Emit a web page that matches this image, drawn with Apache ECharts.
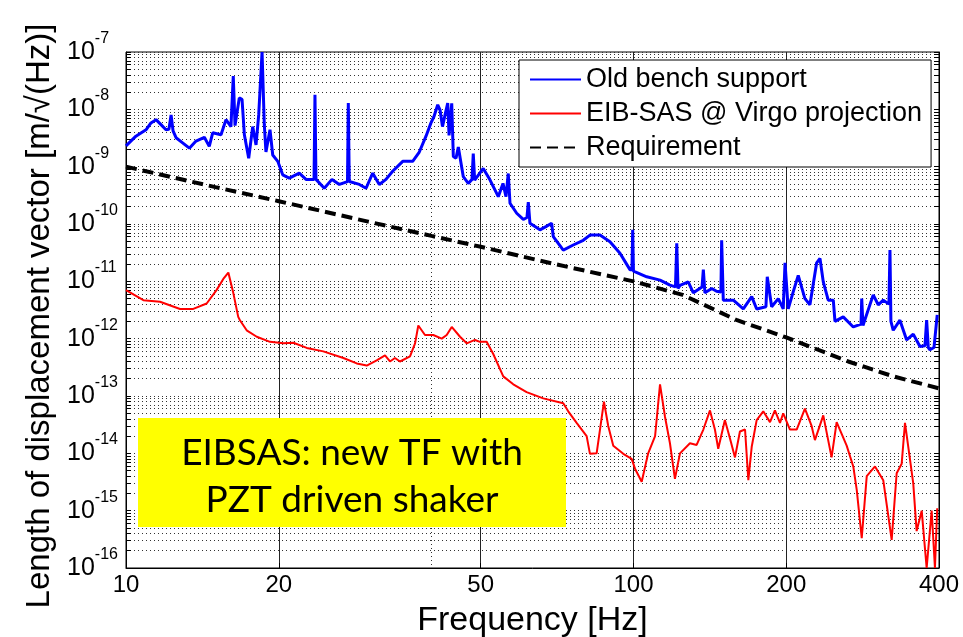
<!doctype html>
<html lang="en">
  <head>
    <meta charset="utf-8">
    <title>EIB-SAS displacement</title>
    <script src="https://cdn.jsdelivr.net/npm/echarts@6/dist/echarts.min.js"></script>
    <style>
      html, body {
        width: 100%;
        height: 100%;
        margin: 0;
        background: #fff;
      }

      #chart {
        width: 963px;
        height: 637px;
      }
    </style>
  </head>
  <body>
    <div id="chart"></div>
    <script>
      // tick positions
      const xTicks = [10, 20, 50, 100, 200, 400];
      const xMinorGrid = [40];
      const yDecades = [1e-16, 1e-15, 1e-14, 1e-13, 1e-12, 1e-11, 1e-10, 1e-9, 1e-8, 1e-7];
      const mantissas = [1, 2, 3, 4, 5, 6, 7, 8, 9];

      // Old bench support (blue)
      const blueFreq = [10.0, 10.46, 10.95, 11.2, 11.46, 11.72, 11.99, 12.15, 12.27, 12.38, 12.55, 12.93, 13.33, 13.74,
        14.27, 14.59, 14.82, 15.39, 15.74, 16.10, 16.27, 16.40, 16.72, 16.93, 17.11, 17.45, 17.77, 18.04, 18.26, 18.54,
        18.73, 18.87, 19.22, 19.46, 19.91, 20.36, 20.98, 21.95, 22.63, 23.47, 23.57, 23.68, 24.59, 25.46, 26.33, 27.32,
        27.42, 27.54, 28.83, 29.72, 30.63, 31.56, 32.53, 33.53, 35.10, 36.72, 37.84, 39.01, 39.90, 40.45, 41.14, 41.57,
        42.04, 42.53, 43.05, 43.31, 43.84, 44.16, 44.70, 45.17, 46.20, 47.26, 48.06, 48.34, 48.65, 50.58, 52.14, 54.15,
        55.32, 56.08, 56.66, 57.11, 58.87, 60.66, 61.68, 62.05, 62.52, 65.42, 67.22, 68.98, 69.50, 72.72, 76.09, 79.62,
        82.08, 85.90, 89.88, 94.06, 98.42, 99.32, 99.64, 100.0, 106.2, 112.8, 118.0, 121.0, 121.7, 122.4, 123.5, 128.2,
        131.2, 136.5, 137.3, 138.3, 142.6, 145.8, 148.7, 149.2, 150.3, 157.3, 164.6, 171.0, 174.9, 182.4, 183.5, 187.2,
        192.9, 197.3, 198.9, 201.8, 206.5, 211.2, 217.7, 222.7, 229.6, 233.1, 236.6, 242.0, 247.6, 249.5, 259.0, 271.1,
        280.8, 281.7, 283.3, 296.8, 303.6, 310.6, 318.7, 320.2, 321.6, 325.0, 335.0, 345.4, 355.9, 366.9, 375.3, 378.2,
        381.0, 383.9, 391.0, 396.8];
      const blueAmp = [2.3e-9, 3.4e-9, 4.4e-9, 5.8e-9, 6.6e-9, 5.4e-9, 4.4e-9, 4.5e-9, 8.0e-9, 4.2e-9, 3.2e-9, 2.6e-9, 2.1e-9, 2.8e-9,
        3.25e-9, 2.26e-9, 3.9e-9, 3.6e-9, 6.6e-9, 5.0e-9, 3.8e-8, 5.2e-9, 1.58e-8, 1.5e-8, 3.6e-9, 1.4e-9, 5.0e-9, 2.4e-9, 8.0e-9, 1.0e-7,
        5.4e-9, 1.8e-9, 4.4e-9, 1.6e-9, 1.24e-9, 7.2e-10, 6.3e-10, 7.7e-10, 6.0e-10, 6.0e-10, 1.8e-8, 6.0e-10, 4.2e-10, 6.0e-10, 4.9e-10, 5.5e-10,
        1.29e-8, 5.5e-10, 4.9e-10, 4.2e-10, 7.7e-10, 4.9e-10, 6.0e-10, 8.3e-10, 1.24e-9, 1.24e-9, 1.8e-9, 3.4e-9, 5.8e-9, 7.5e-9, 1.2e-8, 9.8e-9,
        5.0e-9, 8.0e-9, 1.29e-8, 3.5e-9, 1.27e-8, 1.5e-9, 1.4e-9, 2.2e-9, 6.7e-10, 5.1e-10, 6.0e-10, 1.7e-9, 5.8e-10, 9.3e-10, 5.9e-10, 3.0e-10,
        5.1e-10, 3.0e-10, 7.6e-10, 2.3e-10, 1.54e-10, 1.2e-10, 1.3e-10, 2.4e-10, 1.03e-10, 7.9e-11, 9.0e-11, 1.03e-10, 6.0e-11, 3.5e-11, 4.3e-11, 5.2e-11,
        6.4e-11, 6.4e-11, 4.9e-11, 3.1e-11, 1.6e-11, 1.6e-11, 7.9e-11, 1.5e-11, 1.2e-11, 1.05e-11, 8.6e-12, 8.0e-12, 4.6e-11, 7.5e-12, 8.5e-12, 9.8e-12,
        6.3e-12, 8.0e-12, 1.6e-11, 6.3e-12, 7.5e-12, 6.7e-12, 6.5e-12, 5.2e-11, 4.7e-12, 4.7e-12, 3.3e-12, 5.4e-12, 3.3e-12, 3.6e-12, 1.2e-11, 3.6e-12,
        5.0e-12, 3.3e-12, 2.1e-11, 3.3e-12, 6.6e-12, 1.27e-11, 5.0e-12, 3.9e-12, 2.1e-11, 2.5e-11, 9.8e-12, 4.7e-12, 4.7e-12, 2.0e-12, 2.4e-12, 1.6e-12,
        1.8e-12, 5.0e-12, 1.7e-12, 5.8e-12, 3.9e-12, 4.7e-12, 4.0e-12, 3.5e-11, 2.0e-12, 1.4e-12, 2.1e-12, 9.5e-13, 1.2e-12, 7.3e-13, 7.5e-13, 2.1e-12,
        7.0e-13, 6.4e-13, 7.0e-13, 2.6e-12];

      // EIB-SAS @ Virgo projection (red)
      const redFreq = [10.0, 10.82, 11.67, 12.78, 13.57, 14.42, 15.09, 15.55, 15.91, 16.27, 16.64, 16.77, 17.29, 18.10,
        19.22, 20.42, 21.37, 22.71, 24.48, 26.81, 28.49, 29.81, 31.19, 32.39, 33.13, 33.88, 34.66, 36.28, 37.12, 37.67,
        38.83, 40.31, 41.90, 42.85, 43.84, 45.52, 46.92, 48.72, 49.83, 51.37, 52.93, 55.39, 57.96, 61.58, 66.41, 72.72,
        74.38, 77.27, 80.86, 82.08, 84.61, 87.46, 89.18, 91.24, 95.48, 99.18, 100.7, 103.8, 106.9, 110.3, 112.8, 115.4,
        118.0, 120.7, 123.5, 129.2, 133.2, 137.3, 141.5, 144.7, 146.9, 151.4, 155.0, 158.5, 162.1, 165.9, 168.4, 171.0,
        174.9, 180.2, 185.8, 190.0, 194.4, 197.3, 203.4, 209.7, 217.7, 224.4, 227.8, 236.6, 245.7, 251.4, 263.1, 271.1,
        275.4, 281.7, 288.2, 299.2, 310.6, 322.7, 330.1, 337.7, 342.8, 350.6, 355.9, 361.4, 369.8, 378.2, 386.9, 392.7,
        396.8];
      const redAmp = [7.0e-12, 4.7e-12, 4.4e-12, 3.3e-12, 3.3e-12, 4.1e-12, 7.1e-12, 1.1e-11, 1.42e-11, 6.3e-12, 2.4e-12, 2.1e-12, 1.4e-12, 1.08e-12,
        8.8e-13, 8.3e-13, 8.5e-13, 6.9e-13, 6.0e-13, 4.6e-13, 3.7e-13, 3.4e-13, 4.2e-13, 5.1e-13, 4.0e-13, 4.6e-13, 4.0e-13, 4.9e-13, 8.3e-13, 1.7e-12,
        1.16e-12, 1.16e-12, 1.0e-12, 1.16e-12, 1.6e-12, 1.08e-12, 8.3e-13, 9.5e-13, 8.8e-13, 8.8e-13, 5.4e-13, 2.2e-13, 1.6e-13, 1.17e-13, 9.1e-14, 7.5e-14,
        5.4e-14, 3.4e-14, 2.0e-14, 9.8e-15, 1.0e-14, 8.0e-14, 3.0e-14, 1.36e-14, 9.8e-15, 8.0e-15, 5.4e-15, 3.2e-15, 1.0e-14, 2.0e-14, 1.6e-13, 4.3e-14,
        1.5e-14, 3.6e-15, 1.0e-14, 1.5e-14, 1.4e-14, 2.6e-14, 5.6e-14, 2.6e-14, 1.2e-14, 3.8e-14, 1.8e-14, 8.5e-15, 2.4e-14, 2.6e-14, 3.4e-15, 1.3e-14,
        3.8e-14, 5.4e-14, 3.5e-14, 5.6e-14, 3.4e-14, 5.0e-14, 2.6e-14, 2.6e-14, 6.0e-14, 3.0e-14, 1.7e-14, 4.6e-14, 8.5e-15, 3.5e-14, 1.36e-14, 5.9e-15,
        2.3e-15, 3.3e-16, 4.0e-15, 5.9e-15, 3.4e-15, 3.1e-16, 4.5e-15, 6.6e-15, 3.4e-14, 7.9e-15, 3.0e-15, 4.4e-16, 1.0e-15, 1.0e-16, 1.0e-15, 1.0e-16,
        1.1e-15];

      // Requirement (black dashed)
      const reqFreq = [10, 15, 20, 30, 40, 50, 70, 100, 125, 160, 200, 265, 325, 400];
      const reqAmp = [1.0e-9, 4.4e-10, 2.5e-10, 1.1e-10, 6.2e-11, 4.0e-11, 2.0e-11, 1.0e-11, 5.8e-12, 2.1e-12, 1.05e-12, 4.0e-13, 2.2e-13, 1.36e-13];

      const zip = (xs, ys) => xs.map((x, i) => [x, ys[i]]);

      let yGrid = [];
      yDecades.forEach((d, i) => {
        mantissas.forEach((m) => {
          if (i === yDecades.length - 1 && m > 1) {
            return;
          }
          yGrid.push(parseFloat((m * d).toPrecision(3)));
        });
      });

      const font = 'Liberation Sans, Arial, sans-serif';

      let chart = echarts.init(document.getElementById('chart'), null, {renderer: 'canvas'});

      let option = {
        animation: false,
        backgroundColor: '#fff',
        grid: {
          left: 126,
          right: 24,
          top: 52,
          bottom: 69,
          outerBoundsMode: 'none',
          containLabel: false,
          show: true,
          borderColor: '#000',
          borderWidth: 1
        },
        legend: {
          orient: 'vertical',
          left: 519,
          top: 60,
          padding: [6, 9, 6, 10],
          itemGap: 7,
          itemWidth: 51,
          itemHeight: 14,
          itemTextGap: 4,
          backgroundColor: '#fff',
          borderColor: '#000',
          borderWidth: 1,
          borderRadius: 0,
          // hide the marker drawn on top of the legend line
          itemStyle: { opacity: 0, color: 'transparent', borderWidth: 0 },
          textStyle: {
            fontFamily: font,
            fontSize: 27,
            color: '#000'
          },
          data: ['Old bench support', 'EIB-SAS @ Virgo projection', 'Requirement']
        },
        xAxis: [
          {
            type: 'log',
            logBase: 10,
            min: 10,
            max: 400,
            name: 'Frequency [Hz]',
            nameLocation: 'middle',
            nameGap: 36,
            nameTextStyle: {
              fontFamily: font,
              fontSize: 34,
              color: '#000'
            },
            axisLine: {
              lineStyle: { color: '#000', width: 1 }
            },
            axisTick: {
              inside: true,
              length: 5,
              customValues: xTicks,
              lineStyle: { color: '#000' }
            },
            axisLabel: {
              customValues: xTicks,
              margin: 5,
              fontFamily: font,
              fontSize: 24,
              color: '#000',
              showMinLabel: true,
              showMaxLabel: true,
              formatter: (value) => String(Math.round(value))
            },
            splitLine: {
              show: true,
              lineStyle: { color: '#222', width: 1, type: 'solid' }
            }
          },
          {
            type: 'log',
            logBase: 10,
            min: 10,
            max: 400,
            position: 'top',
            axisLine: { show: false },
            axisTick: { show: false, customValues: xMinorGrid },
            axisLabel: { show: false, customValues: xMinorGrid },
            splitLine: {
              show: true,
              lineStyle: { color: '#333', width: 1, type: [1, 3] }
            }
          }
        ],
        yAxis: [
          {
            type: 'log',
            logBase: 10,
            min: 1e-16,
            max: 1e-7,
            name: 'Length of displacement vector [m/\u221a(Hz)]',
            nameLocation: 'middle',
            nameGap: 70,
            nameTextStyle: {
              fontFamily: font,
              fontSize: 33,
              color: '#000',
              padding: [0, 12, 0, 0]
            },
            axisLine: {
              show: true,
              lineStyle: { color: '#000', width: 1 }
            },
            axisTick: {
              inside: true,
              length: 5,
              customValues: yGrid,
              lineStyle: { color: '#000' }
            },
            axisLabel: {
              customValues: yDecades,
              align: 'left',
              margin: 59,
              color: '#000',
              showMinLabel: true,
              showMaxLabel: true,
              formatter: (value) => '{b|10}{s|' + Math.round(Math.log10(value)) + '}',
              rich: {
                b: { fontFamily: font, fontSize: 25, lineHeight: 26, color: '#000' },
                s: { fontFamily: font, fontSize: 16, lineHeight: 16, padding: [0, 0, 27, 0], color: '#000' }
              }
            },
            splitLine: {
              show: true,
              lineStyle: { color: '#333', width: 1, type: [1, 3] }
            }
          },
          {
            type: 'log',
            logBase: 10,
            min: 1e-16,
            max: 1e-7,
            position: 'right',
            axisLine: {
              show: true,
              lineStyle: { color: '#000', width: 1 }
            },
            axisTick: {
              inside: true,
              length: 5,
              customValues: yGrid,
              lineStyle: { color: '#000' }
            },
            axisLabel: { show: false },
            splitLine: { show: false }
          }
        ],
        series: [
          {
            name: 'Old bench support',
            type: 'line',
            symbol: 'none',
            color: '#0000ff',
            lineStyle: { width: 3, color: '#0000ff' },
            data: zip(blueFreq, blueAmp)
          },
          {
            name: 'EIB-SAS @ Virgo projection',
            type: 'line',
            symbol: 'none',
            color: '#ff0000',
            lineStyle: { width: 2, color: '#ff0000' },
            data: zip(redFreq, redAmp)
          },
          {
            name: 'Requirement',
            type: 'line',
            symbol: 'none',
            color: '#000',
            lineStyle: { width: 4, color: '#000', type: [11, 6] },
            data: zip(reqFreq, reqAmp)
          }
        ],
        graphic: [
          {
            type: 'rect',
            left: 138,
            top: 418,
            shape: { width: 428, height: 109 },
            style: { fill: '#ffff00' },
            z: 100
          },
          {
            type: 'text',
            x: 352,
            y: 477,
            z: 101,
            style: {
              text: 'EIBSAS: new TF with\nPZT driven shaker',
              align: 'center',
              verticalAlign: 'middle',
              fontFamily: 'Lato, Open Sans, sans-serif',
              fontSize: 37,
              lineHeight: 47,
              fill: '#000'
            }
          }
        ]
      };

      chart.setOption(option);
    </script>
  </body>
</html>
